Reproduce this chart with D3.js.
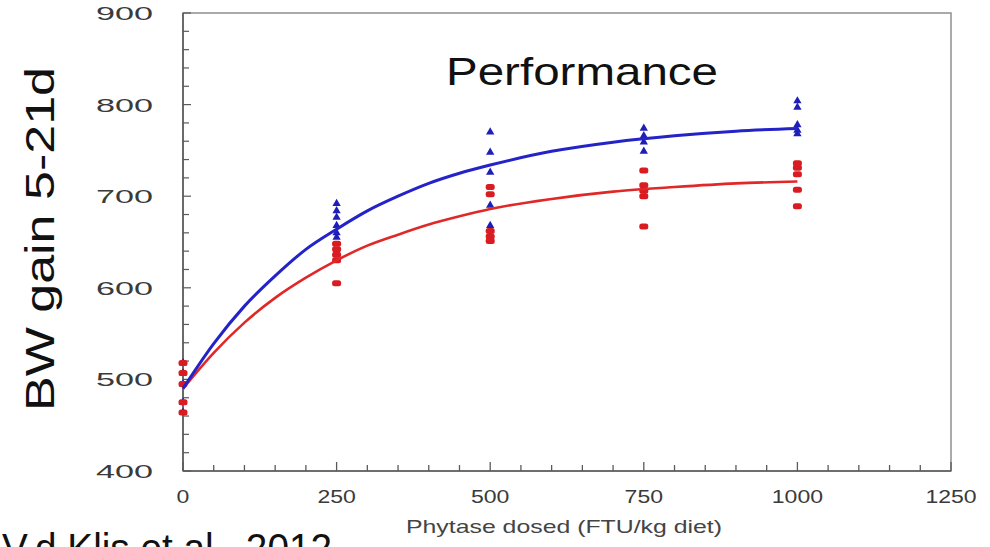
<!DOCTYPE html>
<html><head><meta charset="utf-8">
<script src="https://cdn.jsdelivr.net/npm/d3@7"></script>
<style>
html,body{margin:0;padding:0;background:#fff;overflow:hidden;}
svg{display:block;}
text{font-family:"Liberation Sans",Arial,sans-serif;}
</style></head>
<body>
<svg id="chart" width="990" height="547"></svg>
<script>
// ---- data ----
const title = "Performance";
const yTitle = "BW gain 5-21d";
const xTitle = "Phytase dosed (FTU/kg diet)";
const source = "V.d.Klis et al., 2012";
const xTicks = [0, 250, 500, 750, 1000, 1250];
const yTicks = [400, 500, 600, 700, 800, 900];

// observed points (dose, BW gain)
const blueDose = [0,0,0,0,0, 250,250,250,250,250,250, 500,500,500,500,500,500, 750,750,750,750, 1000,1000,1000,1000,1000];
const blueGain = [518,507,495,475,464, 692,684,677,668,660,655, 770,748,726,690,668,663, 774,766,759,749, 804,797,778,772,768];
const redDose = [0,0,0,0,0, 250,250,250,250,250, 500,500,500,500,500, 750,750,750,750,750, 1000,1000,1000,1000,1000];
const redGain = [518,507,495,475,464, 648,642,636,630,605, 710,702,662,656,651, 728,712,706,700,667, 736,731,724,707,689];

// fitted curves
const curveDose = [0,50,100,150,200,250,300,350,400,450,500,600,700,800,900,1000];
const blueCurve = [490,539,580,613,642,664,684,700,714,725,734,749,759,766,771,774];
const redCurve  = [490,529,562,589,611,630,646,658,669,678,686,697,705,710,714,716];

// ---- drawing ----
const svg = d3.select("#chart");
const x = d3.scaleLinear().domain([0,1250]).range([183,951]);
const y = d3.scaleLinear().domain([400,900]).range([471,13]);
const axisCol = "#5a5a5a";
const labCol = "#3a3a3a";

// frame
svg.append("rect").attr("x",x(0)).attr("y",y(900))
  .attr("width",x(1250)-x(0)).attr("height",y(400)-y(900))
  .attr("fill","none").attr("stroke","#8f8f8f").attr("stroke-width",1.5);

// bottom axis with inward ticks
const xMinor = d3.range(0,1251,50);
const gx = svg.append("g");
gx.selectAll("line.t").data(xMinor).join("line")
  .attr("x1",d=>x(d)).attr("x2",d=>x(d))
  .attr("y1",y(400)).attr("y2",d=> y(400) - (d%250===0 ? 9 : 6))
  .attr("stroke",axisCol).attr("stroke-width",1.3);
gx.append("line").attr("x1",x(0)).attr("x2",x(1250)).attr("y1",y(400)).attr("y2",y(400))
  .attr("stroke",axisCol).attr("stroke-width",1.6);
gx.selectAll("text").data(xTicks).join("text")
  .attr("x",d=>x(d)).attr("y",503).attr("text-anchor","middle")
  .attr("font-family","DejaVu Sans, sans-serif")
  .attr("font-size",18).attr("fill",labCol)
  .attr("textLength",d=>String(d).length*12.8).attr("lengthAdjust","spacingAndGlyphs")
  .text(d=>d);

// left axis with inward ticks
const yMinor = d3.range(400,901,20);
const gy = svg.append("g");
gy.selectAll("line.t").data(yMinor).join("line")
  .attr("x1",x(0)).attr("x2",d=> x(0) + (d%100===0 ? 8 : 6))
  .attr("y1",d=>y(d)).attr("y2",d=>y(d))
  .attr("stroke",axisCol).attr("stroke-width",1.2);
gy.append("line").attr("x1",x(0)).attr("x2",x(0)).attr("y1",y(400)).attr("y2",y(900))
  .attr("stroke",axisCol).attr("stroke-width",1.6);
gy.selectAll("text").data(yTicks).join("text")
  .attr("x",153).attr("y",d=>y(d)+7).attr("text-anchor","end")
  .attr("font-family","DejaVu Sans, sans-serif")
  .attr("font-size",19).attr("fill",labCol)
  .attr("textLength",d=>String(d).length*19).attr("lengthAdjust","spacingAndGlyphs")
  .text(d=>d);

// points
const bluePts = blueDose.map((d,i)=>({d, g: blueGain[i]}));
const redPts = redDose.map((d,i)=>({d, g: redGain[i]}));
const tri = d3.symbol().type(d3.symbolTriangle).size(30);
svg.append("g").selectAll("path").data(bluePts).join("path")
  .attr("d",tri).attr("transform",p=>`translate(${x(p.d)},${y(p.g)})`)
  .attr("fill","#1f1fb8");
svg.append("g").selectAll("rect").data(redPts).join("rect")
  .attr("x",p=>x(p.d)-4.5).attr("y",p=>y(p.g)-3).attr("width",9).attr("height",6).attr("rx",2.5)
  .attr("fill","#d81c22");

// curves
const line = d3.line().x(p=>x(p[0])).y(p=>y(p[1])).curve(d3.curveMonotoneX);
svg.append("path").datum(curveDose.map((d,i)=>[d,redCurve[i]]))
  .attr("d",line).attr("fill","none").attr("stroke","#e02828").attr("stroke-width",2.6);
svg.append("path").datum(curveDose.map((d,i)=>[d,blueCurve[i]]))
  .attr("d",line).attr("fill","none").attr("stroke","#2323c8").attr("stroke-width",3);

// titles
svg.append("text").attr("x",582).attr("y",85).attr("text-anchor","middle")
  .attr("font-size",39).attr("fill","#111")
  .attr("textLength",272).attr("lengthAdjust","spacingAndGlyphs").text(title);
svg.append("text").attr("transform","translate(54,239) rotate(-90)")
  .attr("text-anchor","middle").attr("font-size",41).attr("fill","#111")
  .attr("textLength",344).attr("lengthAdjust","spacingAndGlyphs").text(yTitle);
svg.append("text").attr("x",564).attr("y",533).attr("text-anchor","middle")
  .attr("font-size",19).attr("fill","#444")
  .attr("textLength",316).attr("lengthAdjust","spacingAndGlyphs").text(xTitle);
svg.append("text").attr("x",2).attr("y",562)
  .attr("font-size",40).attr("fill","#111")
  .attr("textLength",330).attr("lengthAdjust","spacingAndGlyphs").text(source);
</script>
</body></html>
